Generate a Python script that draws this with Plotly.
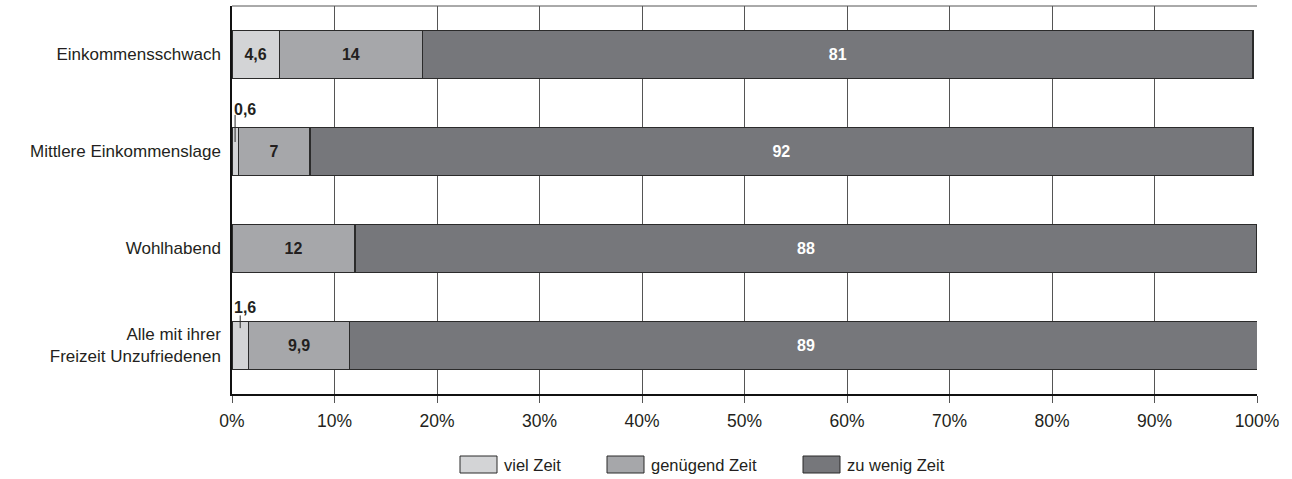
import plotly.graph_objects as go

# Survey shares (percent) per income group
groups = [
    "Einkommensschwach",
    "Mittlere Einkommenslage",
    "Wohlhabend",
    "Alle mit ihrer<br>Freizeit Unzufriedenen",
]
viel_zeit = [4.6, 0.6, 0.0, 1.6]
genuegend_zeit = [14, 7, 12, 9.9]
zu_wenig_zeit = [81, 92, 88, 89]

series_names = ["viel Zeit", "genügend Zeit", "zu wenig Zeit"]
series_values = [viel_zeit, genuegend_zeit, zu_wenig_zeit]
series_colors = ["#d3d4d6", "#a6a7aa", "#76777b"]
label_colors = ["#231f20", "#231f20", "#ffffff"]

x_ticks = list(range(0, 101, 10))
x_ticktext = [f"{v}%" for v in x_ticks]

FONT = "Liberation Sans, Arial, Helvetica, sans-serif"
TEXT = "#231f20"
OUTLINE = "#2b2b2b"
SMALL = 2.0  # segments narrower than this get their label above the bar


def fmt(v):
    return f"{v:g}".replace(".", ",")


fig = go.Figure()
for name, vals, col, lcol in zip(series_names, series_values, series_colors, label_colors):
    texts = [fmt(v) if v >= SMALL else "" for v in vals]
    fig.add_trace(go.Bar(
        y=groups, x=vals, name=name, orientation="h",
        marker=dict(color=col, line=dict(color=OUTLINE, width=1.2)),
        width=0.5,
        text=texts, textposition="inside", insidetextanchor="middle",
        textangle=0, constraintext="none",
        textfont=dict(family=FONT, size=16, color=lcol, weight="bold"),
        showlegend=False, hoverinfo="skip",
    ))

# Small "viel Zeit" values: label above the bar with a short leader line
lead = {1: (-0.43, -0.377, -0.098), 3: (-0.393, -0.31, -0.179)}
for i, v in enumerate(viel_zeit):
    if 0 < v < SMALL:
        ty, y0, y1 = lead.get(i, (-0.41, -0.34, -0.14))
        fig.add_shape(type="line", xref="x", yref="y",
                      x0=v / 2, x1=v / 2, y0=i + y0, y1=i + y1,
                      line=dict(color=OUTLINE, width=1))
        fig.add_annotation(x=0, y=i + ty, xref="x", yref="y",
                           text=f"<b>{fmt(v)}</b>", showarrow=False,
                           xanchor="left", yanchor="middle", xshift=0,
                           font=dict(family=FONT, size=16, color=TEXT))

# Top border of the plotting frame
fig.add_shape(type="line", xref="paper", yref="paper", x0=0, x1=1, y0=1, y1=1,
              line=dict(color="#555555", width=1), layer="below")

# Legend drawn as wide swatches below the axis
L, W, T, H = 232, 1025, 6, 388
def px_x(p):
    return (p - L) / W
def px_y(p):
    return (T + H - p) / H

legend_x = [460, 607, 803]
for name, col, sx in zip(series_names, series_colors, legend_x):
    fig.add_shape(type="rect", xref="paper", yref="paper",
                  x0=px_x(sx), x1=px_x(sx + 37), y0=px_y(456), y1=px_y(473),
                  fillcolor=col, line=dict(color=OUTLINE, width=1))
    fig.add_annotation(x=px_x(sx + 42), y=px_y(464.5), xref="paper", yref="paper",
                       text=name, showarrow=False, xanchor="left", yanchor="middle",
                       font=dict(family=FONT, size=16.5, color=TEXT))

fig.update_layout(
    barmode="stack",
    width=1292, height=479,
    margin=dict(l=232, r=35, t=6, b=85),
    paper_bgcolor="white", plot_bgcolor="white",
    font=dict(family=FONT, size=17, color=TEXT),
    bargap=0.5,
)
fig.update_xaxes(
    range=[0, 100], tickvals=x_ticks, ticktext=x_ticktext,
    showgrid=True, gridcolor="#555555", gridwidth=1,
    showline=True, linecolor="#111111", linewidth=1.5,
    ticks="outside", ticklen=7, tickcolor="#555555", tickwidth=1,
    ticklabelstandoff=3,
    tickfont=dict(family=FONT, size=17.5, color=TEXT),
    zeroline=False, fixedrange=True,
)
fig.update_yaxes(
    categoryorder="array", categoryarray=groups,
    range=[3.5, -0.5],
    showgrid=False, showline=True, linecolor="#111111", linewidth=1.5,
    ticks="", ticklabelstandoff=6,
    tickfont=dict(family=FONT, size=17, color=TEXT),
    zeroline=False, fixedrange=True,
)

fig.write_html("out.html")
